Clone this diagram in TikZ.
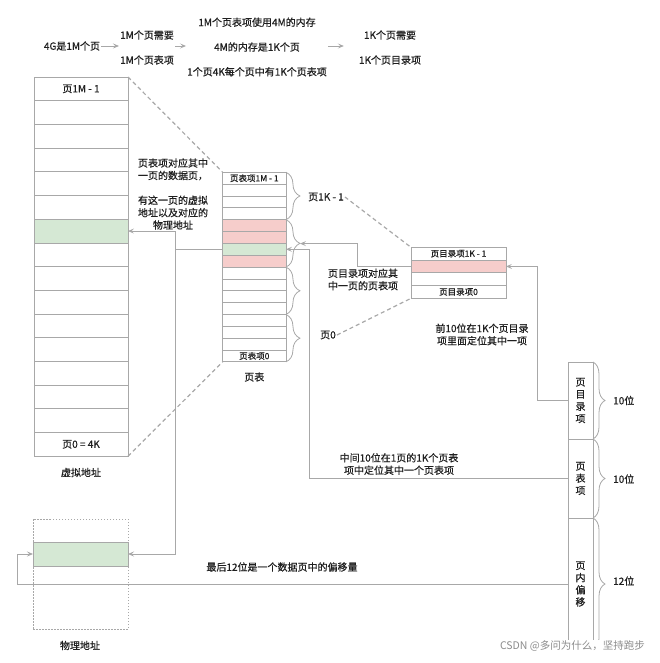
\documentclass[tikz,border=0pt]{standalone}
\usepackage{fontspec}
\setmainfont{Noto Sans CJK SC}[FakeBold=0.6]
\newfontfamily\marque{Noto Sans CJK SC}
\usetikzlibrary{arrows.meta,decorations.pathreplacing,positioning}

\definecolor{trait}{HTML}{A8A8A8}
\definecolor{texte}{HTML}{1F1F1F}
\definecolor{rouge}{HTML}{F6CDCB}
\definecolor{vert}{HTML}{D5E8D4}

\tikzset{
  cell/.style={draw=trait, line width=0.8pt, inner sep=0pt, outer sep=0pt, text=texte},
  vcell/.style={cell, minimum width=94pt, minimum height=23.7pt, font=\fontsize{10}{12}\selectfont},
  ptcell/.style={cell, minimum width=63.3pt, minimum height=11.85pt, font=\fontsize{8.5}{10}\selectfont},
  pdcell/.style={cell, minimum width=95pt, minimum height=12.75pt, font=\fontsize{8.5}{10}\selectfont},
  bitcell/.style={cell, minimum width=25pt, align=center, font=\fontsize{10}{12.2}\selectfont},
  note/.style={align=center, inner sep=1pt, text=texte, font=\fontsize{10}{12.4}\selectfont},
  link/.style={draw=trait, line width=0.8pt, -{Stealth[length=6pt, width=5pt, inset=2.5pt]}},
  guide/.style={draw=trait, line width=1.2pt, dash pattern=on 4pt off 3pt},
  accolade/.style={draw=trait, line width=0.8pt, decorate, decoration={brace, amplitude=#1}},
}

\begin{document}
\begin{tikzpicture}[x=1pt, y=-1pt]
  \useasboundingbox (0,0) rectangle (660,663);

  % Le calcul en haut
  \node[note] (t1) at (72,46) {4G是1M个页};
  \node[note, font=\fontsize{10}{25}\selectfont] (t2) at (147,47.5) {1M个页需要\\1M个页表项};
  \node[note, font=\fontsize{10}{24.75}\selectfont] (t3) at (257,47) {1M个页表项使用4M的内存\\4M的内存是1K个页\\1个页4K每个页中有1K个页表项};
  \node[note, font=\fontsize{10}{25}\selectfont] (t4) at (390,47.5) {1K个页需要\\1K个页目录项};
  \draw[link] (t1.east) -- (t1.east -| t2.west);
  \draw[link] (t1.east -| t2.east) -- (t1.east -| t3.west);
  \draw[link, shorten >=14pt] (t1.east -| t3.east) -- (t1.east -| t4.west);

  % La mémoire virtuelle
  \node[vcell] (v0) at (81,88.85) {页1M - 1};
  \foreach \i in {1,...,5,7,8,...,14}
    \node[vcell] (v\i) at (81,88.85+23.7*\i) {};
  \node[vcell, fill=vert] (v6) at (81,231.05) {};
  \node[vcell] (v15) at (81,444.35) {页0 = 4K};
  \node[note] (vlab) at (81,472.5) {虚拟地址};

  % La table des pages
  \node[ptcell] (pt0) at (254.3,178.2) {页表项1M - 1};
  \foreach \i in {1,2,3,8,9,...,14}
    \node[ptcell] (pt\i) at (254.3,178.2+11.85*\i) {};
  \foreach \i in {4,5,7}
    \node[ptcell, fill=rouge] (pt\i) at (254.3,178.2+11.85*\i) {};
  \node[ptcell, fill=vert] (pt6) at (254.3,249.3) {};
  \node[ptcell] (pt15) at (254.3,355.95) {页表项0};
  \node[note] (ptlab) at (254.3,377) {页表};
  \foreach \k in {0,4,8,12}
    \draw[accolade=14pt] (pt\k.north east) -- (pt\k.north east |- {pt\the\numexpr\k+3\relax.south east});
  \coordinate (bt1) at (300,243.6);

  % Le répertoire des pages
  \node[pdcell] (pd0) at (458.5,253.7) {页目录项1K - 1};
  \node[pdcell, fill=rouge] (pd1) at (458.5,266.45) {};
  \node[pdcell] (pd2) at (458.5,279.2) {};
  \node[pdcell] (pd3) at (458.5,291.95) {页目录项0};
  \node[note] (hi) at (326,197) {页1K - 1};
  \node[note] (lo) at (328,335) {页0};

  % La mémoire physique
  \node[draw=trait, line width=0.9pt, dash pattern=on 1.5pt off 1.5pt, minimum width=95pt, minimum height=110pt, inner sep=0pt] (phys) at (80.5,574) {};
  \node[cell, fill=vert, minimum width=95pt, minimum height=24pt] (pg) at (80.5,554) {};
  \node[note] (plab) at (80,645.5) {物理地址};

  % L'adresse virtuelle découpée
  \node[bitcell, minimum height=77pt] (bdir) at (580.5,400.5) {页\\目\\录\\项};
  \node[bitcell, minimum height=79pt] (bpte) at (580.5,478.5) {页\\表\\项};
  \node[bitcell, minimum height=132pt] (boff) at (580.5,584) {页\\内\\偏\\移};
  \draw[accolade=12pt] (bdir.north east) -- (bdir.south east);
  \draw[accolade=12pt] (bpte.north east) -- (bpte.south east);
  \draw[accolade=12pt] (boff.north east) -- (boff.south east);
  \node[note, anchor=west] (n10a) at (612,400.5) {10位};
  \node[note, anchor=west] (n10b) at (612,479) {10位};
  \node[note, anchor=west] (n12) at (612,581) {12位};

  % Les explications
  \node[note] (e1) at (173,194) {页表项对应其中\\一页的数据页，\\[12.4pt]有这一页的虚拟\\地址以及对应的\\物理地址};
  \node[note] (e2) at (363,279.5) {页目录项对应其\\中一页的页表项};
  \node[note] (e3) at (482,334.5) {前10位在1K个页目录\\项里面定位其中一项};
  \node[note] (e4) at (399,464) {中间10位在1页的1K个页表\\项中定位其中一个页表项};
  \node[note] (e5) at (282,567) {最后12位是一个数据页中的偏移量};

  % Les pointillés
  \draw[guide] (v0.north east) -- (pt0.north west);
  \draw[guide] (v15.south east) -- (pt15.south west);
  \draw[guide] (hi.east) -- (pd0.north west);
  \draw[guide] (lo.east) -- (pd3.south west);

  % Les flèches
  \coordinate (fork) at (175,249.3);
  \draw[link] (bdir.west) -- ++(-31,0) |- (pd1.east);
  \draw[link] (pd1.west) -- ++(-54,0) |- (bt1);
  \draw[link] (bpte.west) -- ++(-259,0) |- (pt6.east);
  \draw[link] (pt6.west) -- (fork) |- (v6.east);
  \draw[link] (fork) |- (pg.east);
  \draw[link] (boff.west) -- ++(-551,0) |- (pg.west);

  \node[anchor=east, inner sep=1pt, text=gray!90, fill=white, font=\marque\fontsize{10.5}{12}\selectfont] (csdn) at (646,646) {CSDN @多问为什么，坚持跑步};
\end{tikzpicture}
\end{document}
